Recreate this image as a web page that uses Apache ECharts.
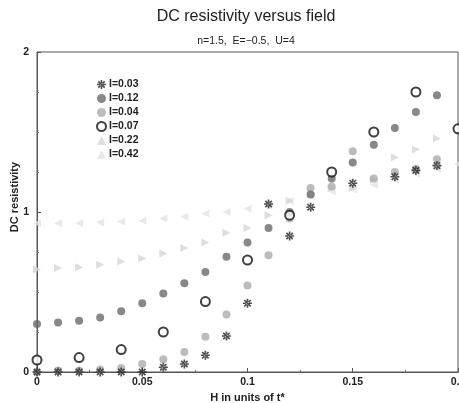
<!DOCTYPE html>
<html>
<head>
<meta charset="utf-8">
<script src="https://cdn.jsdelivr.net/npm/echarts@6/dist/echarts.min.js"></script>
<style>html,body{margin:0;padding:0;background:#fff}#c{width:459px;height:403px}</style>
</head>
<body>
<div id="c"></div>
<script>
// Field values H (units of t*)
var H = [0, 0.01, 0.02, 0.03, 0.04, 0.05, 0.06, 0.07, 0.08, 0.09, 0.10,
         0.11, 0.12, 0.13, 0.14, 0.15, 0.16, 0.17, 0.18, 0.19, 0.20];
var seriesNames = ['I=0.03', 'I=0.12', 'I=0.04', 'I=0.07', 'I=0.22', 'I=0.42'];
var rhoI003 = [0.0, 0.0, 0.0, 0.0, 0.0, 0.0, 0.03, 0.05, 0.105, 0.225, 0.43,
               1.05, 0.85, 1.03, null, 1.18, null, 1.22, 1.26, 1.29, null];
var rhoI012 = [0.30, 0.31, 0.32, 0.34, 0.38, 0.43, 0.49, 0.555, 0.625, 0.72, 0.81,
               0.90, 1.00, 1.11, 1.21, 1.31, 1.42, 1.525, 1.625, 1.73, null];
var rhoI004 = [0.0, 0.01, 0.01, 0.015, 0.025, 0.05, 0.08, 0.125, 0.22, 0.36, 0.54,
               0.73, 0.96, 1.15, 1.16, 1.38, 1.21, 1.25, 1.27, 1.33, null];
var rhoI007 = [0.075, null, 0.09, null, 0.14, null, 0.25, null, 0.44, null, 0.70,
               null, 0.98, null, 1.25, null, 1.50, null, 1.75, null, 1.52];
var rhoI022 = [0.64, 0.65, 0.655, 0.67, 0.69, 0.71, 0.74, 0.775, 0.81, 0.87, 0.90,
               0.98, 1.07, 1.12, 1.15, 1.15, 1.20, 1.34, 1.39, 1.46, null];
var rhoI042 = [0.93, 0.93, 0.93, 0.935, 0.94, 0.945, 0.96, 0.97, 0.99, 1.00, 1.02,
               1.04, 1.07, 1.10, 1.13, 1.14, 1.17, 1.20, 1.24, 1.27, 1.30];
var xTicks = [0, 0.05, 0.1, 0.15, 0.2];
var yTicks = [0, 1, 2];

function pairs(vals) {
  var out = [];
  for (var i = 0; i < H.length; i++) if (vals[i] !== null) out.push([H[i], vals[i]]);
  return out;
}

var asterisk = 'path://M-0.9,-5 L0.9,-5 L0.9,5 L-0.9,5 Z M-5,-0.9 L5,-0.9 L5,0.9 L-5,0.9 Z ' +
  'M4.2,2.9 L2.9,4.2 L-4.2,-2.9 L-2.9,-4.2 Z M-4.2,2.9 L-2.9,4.2 L4.2,-2.9 L2.9,-4.2 Z';

var font = 'Liberation Sans, Arial, sans-serif';
var chart = echarts.init(document.getElementById('c'), null, {renderer: 'canvas'});
chart.setOption({
  animation: false,
  backgroundColor: '#fff',
  title: [
    {text: 'DC resistivity versus field', left: 241, top: 4, textAlign: 'center',
     textStyle: {fontFamily: font, fontSize: 16, fontWeight: 'normal', color: '#222'}},
    {text: 'n=1.5,  E=\u22120.5,  U=4', left: 241, top: 31, textAlign: 'center',
     textStyle: {fontFamily: font, fontSize: 10.5, fontWeight: 'normal', color: '#222'}}
  ],
  legend: {
    orient: 'vertical', left: 91, top: 74, itemWidth: 9, itemHeight: 9, itemGap: 3,
    textStyle: {fontFamily: font, fontSize: 10.5, fontWeight: 'bold', color: '#222', padding: [0, 0, 0, -2]},
    data: seriesNames
  },
  graphic: [{
    type: 'text', x: 15, y: 197, rotation: Math.PI / 2,
    style: {text: 'DC resistivity', fontFamily: font, fontSize: 11, fontWeight: 'bold', fill: '#222',
            align: 'center', verticalAlign: 'middle'}
  }],
  grid: {left: 37, right: 1, top: 52, bottom: 31, show: true, borderColor: '#555', borderWidth: 1,
         containLabel: false, outerBoundsMode: 'none'},
  xAxis: {
    type: 'value', min: 0, max: 0.2, interval: 0.05,
    name: 'H in units of t*', nameLocation: 'middle', nameGap: 20,
    nameTextStyle: {fontFamily: font, fontSize: 11, fontWeight: 'bold', color: '#222'},
    axisLine: {show: true, onZero: false, lineStyle: {color: '#555'}},
    axisTick: {inside: true, length: 4, lineStyle: {color: '#555'}},
    minorTick: {show: true, splitNumber: 2, length: 2, lineStyle: {color: '#777'}},
    splitLine: {show: false},
    axisLabel: {fontFamily: font, fontSize: 10.5, fontWeight: 'bold', color: '#222', margin: 5,
      formatter: function (v) { return xTicks.indexOf(+v.toFixed(2)) >= 0 ? String(+v.toFixed(2)) : ''; }}
  },
  yAxis: {
    type: 'value', min: 0, max: 2, interval: 1,
    axisLine: {show: true, lineStyle: {color: '#555'}},
    axisTick: {inside: true, length: 4, lineStyle: {color: '#555'}},
    minorTick: {show: true, splitNumber: 4, length: 2, lineStyle: {color: '#777'}},
    splitLine: {show: false},
    axisLabel: {fontFamily: font, fontSize: 10.5, fontWeight: 'bold', color: '#222', margin: 8,
      formatter: function (v) { return yTicks.indexOf(v) >= 0 ? String(v) : ''; }}
  },
  series: [
    {name: seriesNames[5], type: 'scatter', data: pairs(rhoI042), symbol: 'triangle', symbolRotate: 90,
     symbolSize: 8, itemStyle: {color: '#e4e4e4'}, z: 1},
    {name: seriesNames[4], type: 'scatter', data: pairs(rhoI022), symbol: 'triangle', symbolRotate: -90,
     symbolSize: 8, itemStyle: {color: '#d6d6d6'}, z: 2},
    {name: seriesNames[2], type: 'scatter', data: pairs(rhoI004), symbol: 'circle',
     symbolSize: 8, itemStyle: {color: '#ababab'}, z: 3},
    {name: seriesNames[1], type: 'scatter', data: pairs(rhoI012), symbol: 'circle',
     symbolSize: 8, itemStyle: {color: '#6a6a6a'}, z: 4},
    {name: seriesNames[3], type: 'scatter', data: pairs(rhoI007), symbol: 'emptyCircle',
     symbolSize: 9, itemStyle: {color: '#111', borderWidth: 1.6}, z: 5},
    {name: seriesNames[0], type: 'scatter', data: pairs(rhoI003), symbol: asterisk,
     symbolSize: 9, itemStyle: {color: '#222'}, z: 6}
  ]
});
</script>
</body>
</html>
